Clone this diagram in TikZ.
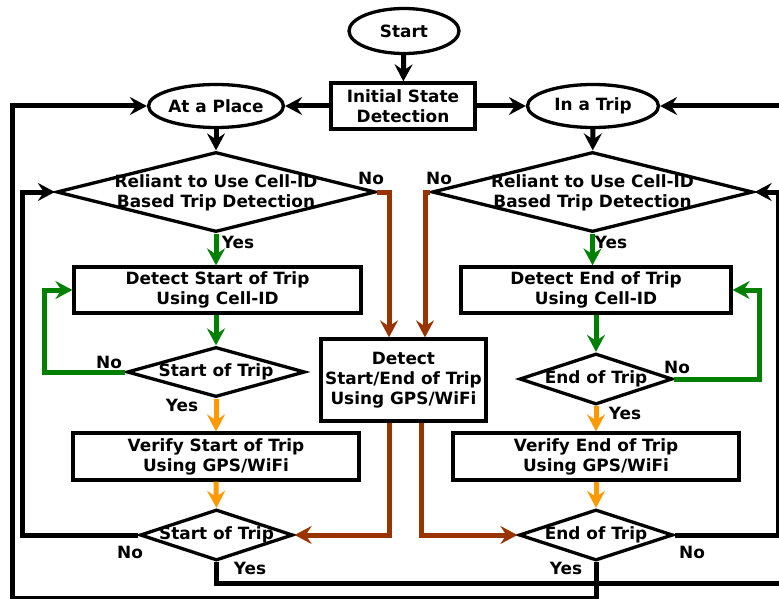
\documentclass[tikz,border=0pt]{standalone}
\usepackage{fontspec}
\setmainfont{DejaVu Sans}
\usetikzlibrary{arrows.meta,shapes.geometric}
\definecolor{fgreen}{RGB}{0,128,0}
\definecolor{fbrown}{RGB}{153,51,0}
\definecolor{forange}{RGB}{255,153,0}
\begin{document}
\begin{tikzpicture}[x=1pt,y=-1pt,
  every node/.style={font=\fontsize{16.9}{19.8}\selectfont\bfseries, align=center, inner sep=0pt},
  box/.style={draw, line width=3.3pt, rectangle},
  oval/.style={draw, line width=3.3pt, ellipse},
  dia/.style={draw, line width=3.3pt, diamond},
  tip/.style={-{Stealth[length=17pt,width=18pt,inset=6pt]}},
  flow/.style={tip, line width=5pt},
  gflow/.style={flow, fgreen},
  oflow/.style={flow, forange},
  bflow/.style={flow, fbrown},
]
\useasboundingbox (0,0) rectangle (779,599);
\clip (0,0) rectangle (779,599);

% ---- top: start and the two states
\node[oval, minimum width=110, minimum height=45] (start) at (404,31) {Start};
\node[box, minimum width=144, minimum height=46] (init) at (403,106) {Initial State\\Detection};
\node[oval, minimum width=131, minimum height=43] (place) at (216,106) {At a Place};
\node[oval, minimum width=131, minimum height=43] (trip) at (593,106) {In a Trip};

% ---- left column (at a place)
\node[dia, minimum width=319, minimum height=80] (ldia) at (216,192) {};
\node (ldiat) at (216,193) {Reliant to Use Cell-ID\\Based Trip Detection};
\node[box, minimum width=287, minimum height=46] (dsbox) at (217.5,290) {Detect Start of Trip\\Using Cell-ID};
\node[dia, minimum width=178, minimum height=50] (sdia1) at (216,372) {};
\node (sdia1t) at (216,372) {Start of Trip};
\node[box, minimum width=286, minimum height=47] (vsbox) at (216,456.5) {Verify Start of Trip\\Using GPS/WiFi};
\node[dia, minimum width=153, minimum height=51] (sdia2) at (216.5,535) {};
\node (sdia2t) at (216.5,535) {Start of Trip};

% ---- middle: GPS/WiFi detection
\node[box, minimum width=165, minimum height=82] (gps) at (403.5,380) {Detect\\Start/End of Trip\\Using GPS/WiFi};

% ---- right column (in a trip)
\node[dia, minimum width=321, minimum height=80] (rdia) at (592.5,192) {};
\node (rdiat) at (592.5,193) {Reliant to Use Cell-ID\\Based Trip Detection};
\node[box, minimum width=270, minimum height=46] (debox) at (596,290) {Detect End of Trip\\Using Cell-ID};
\node[dia, minimum width=153, minimum height=51] (edia1) at (596,379) {};
\node (edia1t) at (596,379) {End of Trip};
\node[box, minimum width=286, minimum height=47] (vebox) at (596,456.5) {Verify End of Trip\\Using GPS/WiFi};
\node[dia, minimum width=154, minimum height=51] (edia2) at (596,535) {};
\node (edia2t) at (596,535) {End of Trip};

% ---- connectors
\draw[flow] (start) -- (init);
\draw[flow] (init) -- (place);
\draw[flow] (init) -- (trip);
\draw[flow] (place) -- (ldia);
\draw[flow] (trip) -- (rdia);

\draw[bflow] (ldia.east) -| ([xshift=-14.5pt]gps.north);
\draw[bflow] (rdia.west) -| ([xshift=21.5pt]gps.north);
\draw[bflow] ([xshift=-14.5pt]gps.south) |- (sdia2.east);
\draw[bflow] ([xshift=17.5pt]gps.south) |- (edia2.west);

\draw[gflow] (ldia.south) -- (ldia.south |- dsbox.north);
\draw[gflow] (dsbox.south -| sdia1.north) -- (sdia1.north);
\draw[gflow] (sdia1.west) -- ++(-81,0) |- (dsbox.west);
\draw[oflow] (sdia1.south) -- (vsbox.north);
\draw[oflow] (vsbox.south) -- (sdia2.north);
\draw[flow] (sdia2.west) -- ++(-116,0) |- (ldia.west);

\draw[gflow] (rdia.south) -- (rdia.south |- debox.north);
\draw[gflow] (debox.south) -- (edia1.north);
\draw[gflow] (edia1.east) -| ([xshift=27pt]debox.east) -- (debox.east);
\draw[oflow] (edia1.south) -- (vebox.north);
\draw[oflow] (vebox.south) -- (edia2.north);
\draw[flow] (edia2.east) -| ([xshift=24pt]rdia.east) -- (rdia.east);

% ---- state changes back to the top
\draw[flow] (sdia2.south) |- (790,583) |- (trip.east);
\draw[flow] (edia2.south) |- (12,598) |- (place.west);

% ---- branch labels
\node (l1) at (238,242) {Yes};
\node (l2) at (371,178) {No};
\node (l3) at (439,178) {No};
\node (l4) at (611,242) {Yes};
\node (l5) at (109,362) {No};
\node (l6) at (182,405) {Yes};
\node (l7) at (130,552) {No};
\node (l8) at (250,568) {Yes};
\node (l9) at (677,367) {No};
\node (l10) at (625,413) {Yes};
\node (l11) at (692,552) {No};
\node (l12) at (566,568) {Yes};
\end{tikzpicture}
\end{document}
